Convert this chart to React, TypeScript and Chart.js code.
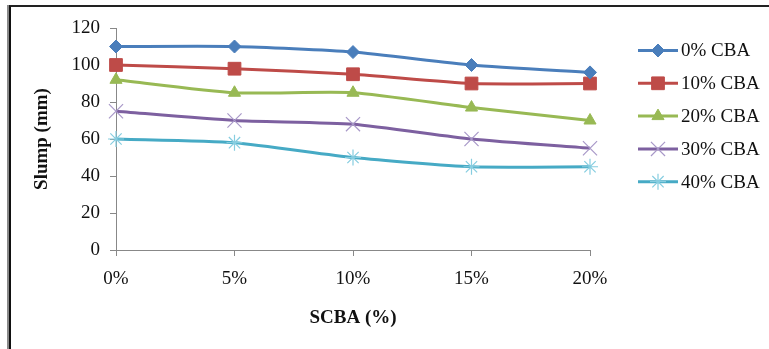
import React, { useEffect, useRef } from "react";
import { Chart, registerables } from "chart.js";
import { drawPoint } from "chart.js/helpers";

Chart.register(...registerables);

const categories = ["0%", "5%", "10%", "15%", "20%"];
const seriesNames = ["0% CBA", "10% CBA", "20% CBA", "30% CBA", "40% CBA"];
const cba0 = [110, 110, 107, 100, 96];
const cba10 = [100, 98, 95, 90, 90];
const cba20 = [92, 85, 85, 77, 70];
const cba30 = [75, 70, 68, 60, 55];
const cba40 = [60, 58, 50, 45, 45];
const yTicks = [0, 20, 40, 60, 80, 100, 120];

const lineColors = ["#4A7EBB", "#BE4B48", "#98B954", "#7D60A0", "#46AAC5"];
const markerColors = ["#4A7EBB", "#BE4B48", "#98B954", "#A898C8", "#86CDE0"];
const markerStyles = ["rectRot", "rect", "triangle", "crossRot", "star"];
const markerRadius = [6.5, 9, 7, 10, 8];
const markerFill = [true, true, true, false, false];

const FONT = "'Liberation Serif', 'Times New Roman', serif";
const FS = 19;

const legendPlugin = {
  id: "customLegend",
  afterDraw(chart: any) {
    const ctx = chart.ctx;
    ctx.save();
    chart.data.datasets.forEach((ds: any, i: number) => {
      const y = 50.5 + i * 32.8;
      ctx.strokeStyle = ds.borderColor;
      ctx.lineWidth = 3;
      ctx.lineCap = "butt";
      ctx.beginPath();
      ctx.moveTo(638, y);
      ctx.lineTo(678, y);
      ctx.stroke();
      ctx.fillStyle = ds.pointBackgroundColor;
      ctx.strokeStyle = ds.pointBorderColor;
      ctx.lineWidth = ds.pointBorderWidth;
      drawPoint(ctx, { pointStyle: ds.pointStyle, radius: ds.pointRadius, rotation: 0, borderWidth: ds.pointBorderWidth }, 658, y);
      ctx.fillStyle = "#111";
      ctx.font = `${FS}px ${FONT}`;
      ctx.textAlign = "left";
      ctx.textBaseline = "middle";
      ctx.fillText(ds.label, 681, y + 1);
    });
    ctx.restore();
  },
};

export default function App() {
  const ref = useRef<HTMLCanvasElement | null>(null);
  useEffect(() => {
    if (!ref.current) return;
    const series = [cba0, cba10, cba20, cba30, cba40];
    const chart = new Chart(ref.current, {
      type: "line",
      data: {
        labels: categories,
        datasets: series.map((data, i) => ({
          label: seriesNames[i],
          data,
          borderColor: lineColors[i],
          backgroundColor: lineColors[i],
          borderWidth: 3,
          tension: 0.2,
          pointStyle: markerStyles[i] as any,
          pointRadius: markerRadius[i],
          pointHoverRadius: markerRadius[i],
          pointBackgroundColor: markerFill[i] ? markerColors[i] : "rgba(0,0,0,0)",
          pointBorderColor: markerColors[i],
          pointBorderWidth: markerFill[i] ? 1 : 1.2,
          fill: false,
        })),
      },
      options: {
        responsive: false,
        animation: false,
        layout: { padding: { left: 0, right: 179, top: 28, bottom: 0 } },
        plugins: {
          legend: { display: false },
          tooltip: { enabled: false },
        },
        scales: {
          x: {
            offset: false,
            grid: { display: true, drawOnChartArea: false, drawTicks: true, tickLength: 6, color: "#888", lineWidth: 1 },
            border: { display: true, color: "#888", width: 1 },
            ticks: { color: "#111", font: { family: FONT, size: FS }, padding: 12, maxRotation: 0 },
            title: {
              display: true,
              text: "SCBA (%)",
              color: "#111",
              font: { family: FONT, size: FS, weight: "bold" },
              padding: { top: 0, bottom: 19.6 },
            },
            afterFit: (s: any) => {
              s.height = 99;
            },
          },
          y: {
            min: 0,
            max: 120,
            afterBuildTicks: (s: any) => {
              s.ticks = yTicks.map((v) => ({ value: v }));
            },
            grid: { display: true, drawOnChartArea: false, drawTicks: true, tickLength: 6, color: "#888", lineWidth: 1 },
            border: { display: true, color: "#888", width: 1 },
            ticks: { color: "#111", font: { family: FONT, size: FS }, padding: 10 },
            title: {
              display: true,
              text: "Slump (mm)",
              color: "#111",
              font: { family: FONT, size: FS, weight: "bold" },
              padding: { top: 30.6, bottom: 0 },
            },
            afterFit: (s: any) => {
              s.width = 116;
            },
          },
        },
      },
      plugins: [legendPlugin],
    });
    return () => chart.destroy();
  }, []);

  return (
    <div style={{ position: "absolute", left: 0, top: 0, width: 769, height: 349, overflow: "hidden", background: "#fff" }}>
      <div style={{ position: "absolute", left: 7, top: 5, width: 900, height: 500, borderLeft: "2px solid #8a8a8a" }} />
      <div style={{ position: "absolute", left: 9, top: 5, width: 900, height: 500, borderLeft: "2px solid #111", borderTop: "2px solid #222" }} />
      <canvas ref={ref} width={769} height={349} style={{ position: "absolute", left: 0, top: 0, display: "block" }} />
    </div>
  );
}
